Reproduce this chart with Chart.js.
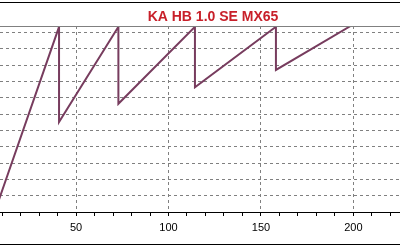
<!DOCTYPE html>
<html>
<head>
<meta charset="utf-8">
<script src="https://cdn.jsdelivr.net/npm/chart.js@4"></script>
<style>
  html, body { margin: 0; padding: 0; background: #fff; }
  #wrap { width: 400px; height: 248px; }
</style>
</head>
<body>
<div id="wrap"><canvas id="chart"></canvas></div>
<script>
// data (x, y in grid units)
const titleText = 'KA HB 1.0 SE MX65';
const xValues = [6, 40.8, 40.8, 72.9, 72.9, 114.3, 114.3, 158.1, 158.1, 198.5];
const yValues = [0, 11.35, 5.52, 11.35, 6.63, 11.35, 7.65, 11.35, 8.71, 11.4];
const xLabelTicks = [50, 100, 150, 200];

const xMin = 8.87, xMax = 225.2;
const yMin = 0, yMax = 11.4;

const points = xValues.map((x, i) => ({ x: x, y: yValues[i] }));

// frame lines, top border of plot and the title
const decor = {
  id: 'decor',
  afterDraw(chart) {
    const ctx = chart.ctx;
    const area = chart.chartArea;
    ctx.save();
    ctx.strokeStyle = '#000';
    ctx.lineWidth = 1;
    ctx.beginPath();
    ctx.moveTo(0, 2.5); ctx.lineTo(400, 2.5);
    ctx.moveTo(0, 244.5); ctx.lineTo(400, 244.5);
    ctx.stroke();
    ctx.strokeStyle = '#808080';
    ctx.beginPath();
    ctx.moveTo(area.left, Math.round(area.top) + 0.5);
    ctx.lineTo(area.right, Math.round(area.top) + 0.5);
    ctx.stroke();
    ctx.fillStyle = '#c8202a';
    ctx.font = 'bold 14px "Liberation Sans", Arial, sans-serif';
    ctx.textAlign = 'center';
    ctx.textBaseline = 'middle';
    ctx.fillText(titleText, 213, 17.5);
    ctx.restore();
  }
};

new Chart(document.getElementById('chart').getContext('2d'), {
  type: 'scatter',
  data: {
    datasets: [{
      data: points,
      showLine: true,
      borderColor: '#773c5e',
      borderWidth: 2,
      pointRadius: 0,
      tension: 0
    }]
  },
  options: {
    responsive: true,
    maintainAspectRatio: false,
    animation: false,
    layout: { padding: { top: 26, left: 0, right: 0, bottom: 0 } },
    plugins: {
      legend: { display: false },
      title: { display: false },
      tooltip: { enabled: false }
    },
    scales: {
      x: {
        type: 'linear',
        min: xMin,
        max: xMax,
        afterFit(scale) {
          scale.height = 36;
          scale.paddingLeft = 0;
          scale.paddingRight = 0;
        },
        ticks: {
          stepSize: 10,
          autoSkip: false,
          includeBounds: false,
          maxRotation: 0,
          padding: 5,
          color: '#000',
          font: { family: '"Liberation Sans", Arial, sans-serif', size: 11 },
          callback: v => xLabelTicks.includes(v) ? String(v) : ''
        },
        grid: {
          color: c => (c.tick && xLabelTicks.includes(c.tick.value)) ? '#808080' : 'rgba(0,0,0,0)',
          tickColor: '#000',
          tickLength: 4,
          tickBorderDash: []
        },
        border: { display: true, color: '#000', width: 1, dash: [3, 3] }
      },
      y: {
        min: yMin,
        max: yMax,
        afterFit(scale) { scale.width = 0; },
        ticks: { display: false, stepSize: 1, includeBounds: false },
        grid: {
          drawTicks: false,
          color: c => (c.tick && c.tick.value > 0) ? '#808080' : 'rgba(0,0,0,0)'
        },
        border: { display: false, dash: [3, 3] }
      }
    }
  },
  plugins: [decor]
});
</script>
</body>
</html>
